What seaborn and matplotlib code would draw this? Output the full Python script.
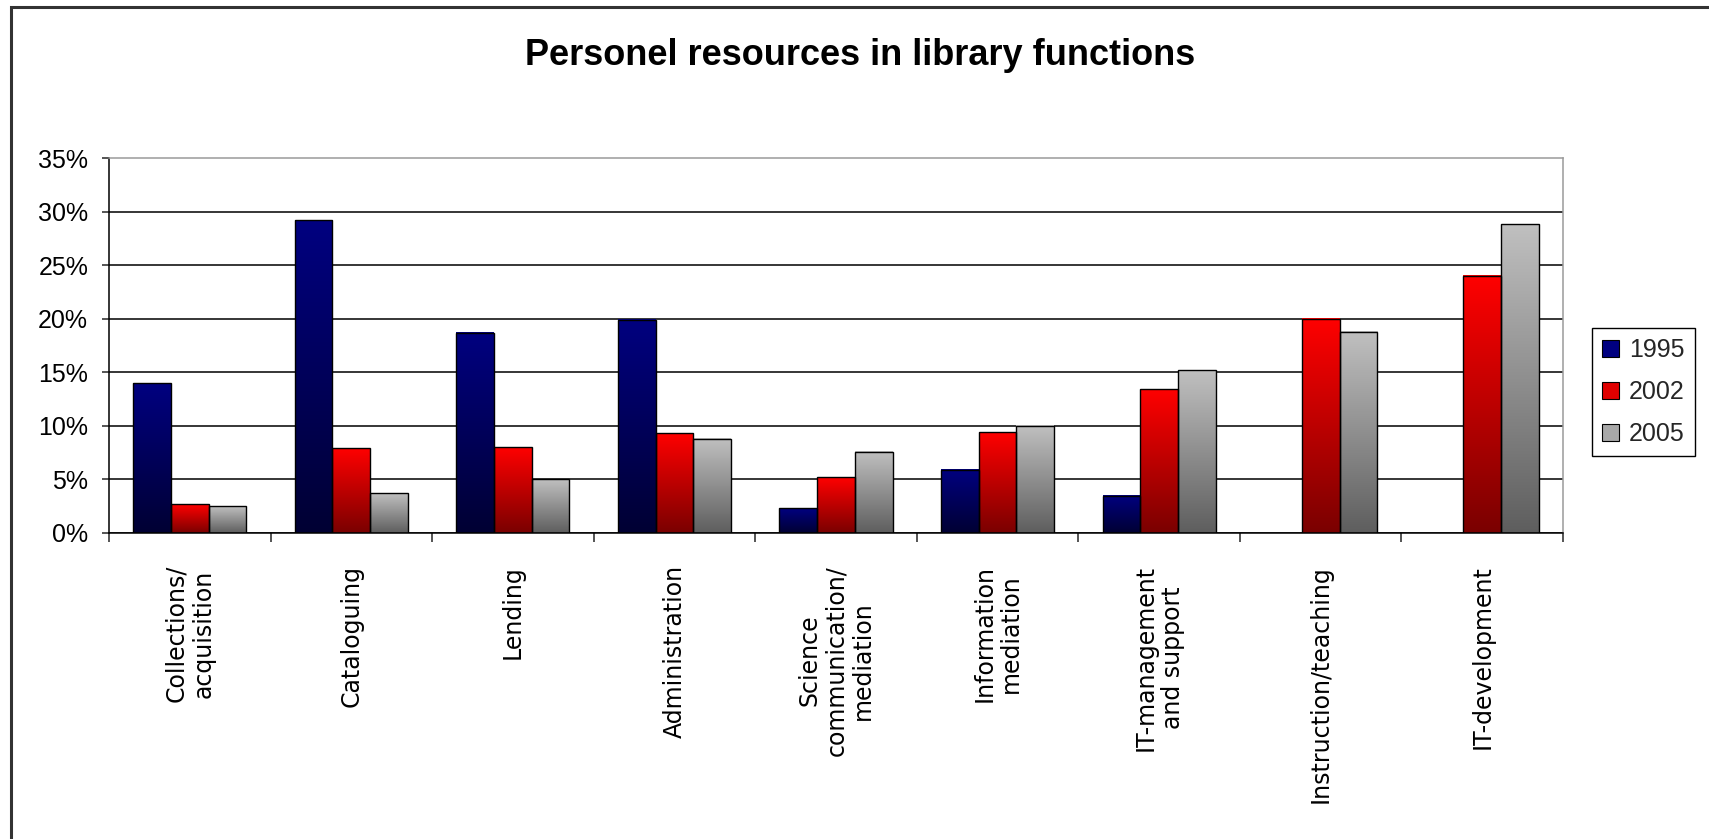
import numpy as np
import pandas as pd
import seaborn as sns
import matplotlib.pyplot as plt
from matplotlib.colors import LinearSegmentedColormap, to_hex
from matplotlib.patches import Patch, Rectangle

categories = ["Collections/\nacquisition", "Cataloguing", "Lending", "Administration",
              "Science\ncommunication/\nmediation", "Information\nmediation",
              "IT-management\nand support", "Instruction/teaching", "IT-development"]
years = ["1995", "2002", "2005"]
v1995 = [14.0, 29.2, 18.7, 19.9, 2.3, 5.9, 3.5, np.nan, np.nan]
v2002 = [2.7, 7.9, 8.0, 9.3, 5.2, 9.4, 13.4, 20.0, 24.0]
v2005 = [2.5, 3.7, 5.0, 8.8, 7.6, 10.0, 15.2, 18.8, 28.8]

top_colors = ["#000080", "#ff0000", "#c0c0c0"]
bottom_colors = ["#000033", "#7a0000", "#5e5e5e"]
legend_colors = ["#000080", "#e00000", "#a8a8a8"]

df = pd.DataFrame({
    "category": categories * 3,
    "year": [y for y in years for _ in categories],
    "value": v1995 + v2002 + v2005,
})

sns.set_style("white")
plt.rcParams['font.family'] = ['Liberation Sans', 'DejaVu Sans']

fig = plt.figure(figsize=(17.09, 8.39), dpi=100)
ax = fig.add_axes([109/1709, 1-533/839, (1563-109)/1709, (533-158)/839])

sns.barplot(data=df, x="category", y="value", hue="year", order=categories,
            hue_order=years, palette=top_colors, width=0.7, saturation=1,
            edgecolor="black", linewidth=1.0, legend=False, ax=ax)

# gradient fill for every bar (Excel style: colour at top, darker at bottom)
grad = np.linspace(0, 1, 256).reshape(-1, 1)
for bar in list(ax.patches):
    h = bar.get_height()
    if h is None or np.isnan(h) or h <= 0:
        bar.set_visible(False)
        continue
    fc = to_hex(bar.get_facecolor())
    i = [to_hex(c) for c in top_colors].index(fc)
    cmap = LinearSegmentedColormap.from_list("g", [bottom_colors[i], top_colors[i]])
    x0, y0, w = bar.get_x(), bar.get_y(), bar.get_width()
    ax.imshow(grad, extent=[x0, x0 + w, y0, y0 + h], origin="lower", cmap=cmap,
              aspect="auto", zorder=2, interpolation="bilinear")
    bar.set_facecolor("none")
    bar.set_zorder(3)

ax.set_xlim(-0.5, len(categories) - 0.5)
ax.set_ylim(0, 35)
ax.set_xlabel("")
ax.set_ylabel("")

# y axis
ax.set_yticks(np.arange(0, 36, 5))
ax.set_yticklabels([f"{v}%" for v in range(0, 36, 5)], fontsize=18, color="black")
ax.yaxis.grid(True, color="black", linewidth=1.1)
ax.yaxis.get_gridlines()[-1].set_visible(False)
ax.set_axisbelow(True)
ax.tick_params(axis="y", direction="out", length=5, width=1.1, pad=10, left=True)

# x axis: ticks on category boundaries, labels at centres
ax.set_xticks(np.arange(-0.5, len(categories), 1.0))
ax.set_xticklabels([])
ax.set_xticks(np.arange(len(categories)), minor=True)
ax.set_xticklabels(categories, minor=True, rotation=90, ha="center", va="top",
                   multialignment="center", fontsize=17, family="DejaVu Sans",
                   color="black", linespacing=1.15)
ax.tick_params(axis="x", which="major", direction="out", length=6.5, width=1.1, bottom=True)
ax.tick_params(axis="x", which="minor", length=0, pad=23)

for s in ["left", "bottom"]:
    ax.spines[s].set_color("black")
    ax.spines[s].set_linewidth(1.1)
for s in ["top", "right"]:
    ax.spines[s].set_visible(True)
    ax.spines[s].set_color("#9a9a9a")
    ax.spines[s].set_linewidth(1.1)

handles = [Patch(facecolor=c, edgecolor="black", linewidth=0.8) for c in legend_colors]
leg = fig.legend(handles, years, loc="upper left", bbox_to_anchor=(1592/1709, 1-328/839),
                 fontsize=18, frameon=True, fancybox=False, framealpha=1, edgecolor="black",
                 handlelength=0.68, handleheight=0.68, handletextpad=0.4,
                 labelspacing=0.72, borderpad=0.4, borderaxespad=0)
leg.get_frame().set_linewidth(1.0)

fig.text(0.503, 1-55.5/839, "Personel resources in library functions", ha="center",
         va="center", fontsize=26, fontweight="bold", color="black")

# outer chart frame (left and top edges visible)
fig.patches.append(Rectangle((11/1709, -0.1), 1.2, 1.1 - 7/839, transform=fig.transFigure,
                             fill=False, edgecolor="#333333", linewidth=2.2))

plt.savefig("out.png", dpi=100)
